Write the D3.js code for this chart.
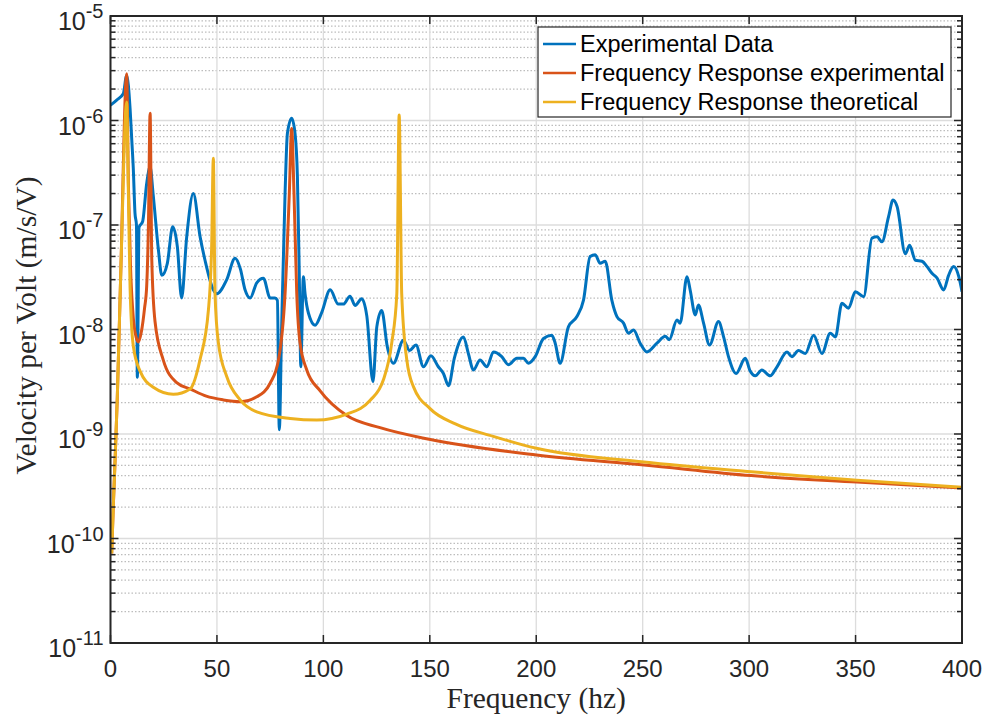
<!DOCTYPE html>
<html>
<head>
<meta charset="utf-8">
<script src="https://cdn.jsdelivr.net/npm/d3@7"></script>
<style>
  body { margin: 0; background: #fff; }
  svg { display: block; }
  .tick-label { font-family: "Liberation Sans", Arial, Helvetica, sans-serif; fill: #262626; }
  .axis-title { font-family: "Liberation Serif", "Times New Roman", serif; fill: #262626; }
  .legend-text { font-family: "Liberation Sans", Arial, Helvetica, sans-serif; fill: #000; }
</style>
</head>
<body>
<div class="canvas"></div>
<script>
// canvas size and plot box
const width = 989;
const height = 723;
const marginTop = 16;
const marginRight = 27;
const marginBottom = 80;
const marginLeft = 110.5;

// --- data ---
const seriesNames = ["Experimental Data", "Frequency Response experimental", "Frequency Response theoretical"];
const xTicks = [0, 50, 100, 150, 200, 250, 300, 350, 400];
const yTickExponents = [-11, -10, -9, -8, -7, -6, -5];

// Experimental Data (blue)
const expFreq = [0, 2.9, 6.0, 7.6, 9.2, 10.0, 10.7, 11.5, 12.2, 12.6, 13.4, 15.1, 17.0, 18.6, 20.0,
  22.5, 24.1, 26.7, 29.2, 31.4, 33.4, 35.8, 38.9, 42.1, 44.4, 48.3, 49.9, 54.6, 58.5, 61.0,
  63.2, 65.6, 68.7, 71.8, 75.0, 77.3, 78.4, 79.3, 80.4, 82.0, 83.1, 85.1, 86.7, 87.8, 88.7,
  89.4, 90.6, 91.4, 93.0, 96.1, 99.2, 103.2, 107.0, 109.4, 112.5, 114.9, 118.0, 120.4, 123.3,
  125.1, 127.4, 130.0, 132.9, 137.6, 140.5, 143.5, 147.0, 150.5, 154.0, 156.4, 158.8, 161.5,
  165.8, 168.1, 170.5, 173.6, 176.8, 179.9, 183.8, 186.9, 190.9, 194.0, 196.3, 199.5, 203.4,
  207.3, 208.9, 211.2, 215.1, 219.1, 222.2, 225.3, 227.7, 230.0, 232.4, 235.5, 237.9, 241.0,
  243.3, 245.7, 248.8, 252.0, 256.7, 260.6, 262.5, 266.1, 267.6, 270.8, 272.3, 274.7, 276.2,
  278.6, 281.4, 285.6, 288.0, 290.3, 293.9, 298.2, 300.5, 302.9, 306.0, 309.9, 313.1, 317.8,
  320.1, 323.2, 326.4, 330.3, 334.2, 338.1, 340.5, 343.6, 346.7, 349.9, 353.8, 357.7, 360.1,
  362.4, 365.5, 367.6, 369.5, 373.4, 375.4, 378.1, 381.2, 383.6, 385.9, 388.3, 391.4, 393.7,
  396.1, 398.5, 400];
const expVel = [1.4e-6, 1.57e-6, 1.8e-6, 2.7e-6, 1.3e-6, 6.5e-7, 3.5e-7, 1.3e-7, 1.0e-7, 3.5e-9, 9.5e-8, 1.08e-7, 2.5e-7, 3.6e-7, 2.0e-7,
  5.8e-8, 3.3e-8, 4.3e-8, 9.6e-8, 6.2e-8, 2.0e-8, 7.7e-8, 2.0e-7, 7.7e-8, 4.6e-8, 2.4e-8, 2.2e-8, 3.0e-8, 4.8e-8, 3.8e-8,
  2.4e-8, 2.0e-8, 2.8e-8, 3.1e-8, 2.0e-8, 2.0e-8, 1.9e-8, 1.1e-9, 1.06e-8, 2.0e-7, 7.5e-7, 1.05e-6, 7.5e-7, 2.9e-7, 3.2e-8,
  4.4e-9, 3.2e-8, 2.2e-8, 1.43e-8, 1.1e-8, 1.45e-8, 2.4e-8, 1.75e-8, 1.75e-8, 2.08e-8, 1.7e-8, 1.97e-8, 1.35e-8, 3.16e-9,
  1.06e-8, 1.52e-8, 6.9e-9, 4.75e-9, 7.9e-9, 6.3e-9, 7.1e-9, 4.4e-9, 5.6e-9, 4.4e-9, 3.8e-9, 2.9e-9, 5.3e-9,
  8.5e-9, 5.9e-9, 4.1e-9, 5.1e-9, 4.4e-9, 6.1e-9, 5.5e-9, 4.6e-9, 5.3e-9, 5.3e-9, 4.75e-9, 5.5e-9, 8.2e-9,
  8.8e-9, 7.4e-9, 4.75e-9, 1.06e-8, 1.33e-8, 1.91e-8, 5.0e-8, 5.2e-8, 4.3e-8, 4.5e-8, 1.91e-8, 1.33e-8, 1.15e-8,
  9.2e-9, 9.9e-9, 7.4e-9, 6.1e-9, 7.4e-9, 8.6e-9, 8.0e-9, 1.23e-8, 1.15e-8, 3.2e-8, 2.39e-8, 1.38e-8, 1.72e-8,
  1.15e-8, 7.1e-9, 1.19e-8, 8.5e-9, 5.5e-9, 3.8e-9, 5.3e-9, 4.0e-9, 3.6e-9, 4.1e-9, 3.6e-9, 4.4e-9, 6.1e-9,
  5.5e-9, 6.3e-9, 5.9e-9, 8.8e-9, 5.9e-9, 9.2e-9, 8.5e-9, 1.78e-8, 1.6e-8, 2.3e-8, 2.06e-8, 7.5e-8, 7.7e-8,
  6.9e-8, 1.2e-7, 1.73e-7, 1.5e-7, 5.3e-8, 6.4e-8, 4.6e-8, 4.5e-8, 4.0e-8, 3.45e-8, 3.1e-8, 2.39e-8, 3.3e-8,
  4.0e-8, 3.2e-8, 2.3e-8];

// Frequency Response experimental (red)
const respExpFreq = [0.56, 1.3, 2.1, 3.2, 4.9, 7.6, 8.4, 9.4, 10.7, 12.0, 13.1, 14.5, 16.0, 17.0, 17.8, 18.6,
  19.4, 20.9, 24.8, 31.1, 37.4, 45.0, 53.0, 60.9, 68.7, 75.0, 78.9, 82.0, 84.0, 85.1, 86.2, 87.5,
  89.0, 92.2, 98.4, 111.0, 126.6, 149.7, 200.1, 250.6, 301.0, 350.6, 400];
const respExpVel = [7.2e-11, 2.0e-10, 5.3e-10, 2.26e-9, 4.0e-8, 2.8e-6, 2.5e-7, 4.0e-8, 1.3e-8, 8.5e-9, 7.6e-9, 9.5e-9, 1.6e-8, 2.6e-8, 9.6e-8, 1.17e-6,
  4.6e-8, 1.2e-8, 5.1e-9, 3.1e-9, 2.7e-9, 2.3e-9, 2.12e-9, 2.04e-9, 2.27e-9, 3.06e-9, 5.1e-9, 2.2e-8, 2.0e-7, 8.4e-7, 2.0e-7, 2.2e-8,
  7.5e-9, 4.1e-9, 2.6e-9, 1.5e-9, 1.15e-9, 8.9e-10, 6.3e-10, 5.06e-10, 4.0e-10, 3.47e-10, 3.05e-10];

// Frequency Response theoretical (yellow)
const respTheoFreq = [0.56, 1.3, 2.1, 3.2, 4.9, 7.6, 8.4, 9.2, 10.7, 13.9, 20.1, 29.5, 37.4, 42.0, 46.0, 47.5,
  48.3, 49.1, 50.7, 54.6, 60.9, 68.7, 84.4, 96.9, 111.0, 122.0, 128.2, 132.1, 134.5, 135.6, 136.8,
  139.2, 142.3, 150.1, 162.0, 179.8, 200.1, 250.6, 301.0, 350.6, 400];
const respTheoVel = [7.2e-11, 2.0e-10, 5.3e-10, 2.26e-9, 4.0e-8, 1.5e-6, 2.0e-7, 2.5e-8, 7.0e-9, 4.0e-9, 2.8e-9, 2.4e-9, 2.7e-9, 5.1e-9, 1.54e-8, 6.0e-8,
  4.35e-7, 2.2e-8, 7.4e-9, 3.55e-9, 2.12e-9, 1.63e-9, 1.41e-9, 1.36e-9, 1.55e-9, 2.1e-9, 3.3e-9, 7.4e-9, 2.2e-8, 1.13e-6, 2.2e-8,
  5.1e-9, 2.84e-9, 1.75e-9, 1.25e-9, 9.5e-10, 7.3e-10, 5.4e-10, 4.35e-10, 3.6e-10, 3.1e-10];

const colors = ["#0072BD", "#D95319", "#EDB120"];

// scales
const x = d3.scaleLinear()
  .domain([0, 400])
  .range([marginLeft, width - marginRight]);

const y = d3.scaleLog()
  .domain([1e-11, 1e-5])
  .range([height - marginBottom, marginTop]);

const svg = d3.select(".canvas").append("svg")
  .attr("width", width)
  .attr("height", height);

const x0 = x(0), x1 = x(400), y0 = y(1e-11), y1 = y(1e-5);

// minor log values (2..9 in each decade)
const minorVals = [];
for (let e = -11; e < -5; e++) {
  for (let k = 2; k <= 9; k++) minorVals.push(k * Math.pow(10, e));
}
const majorVals = yTickExponents.map(e => Math.pow(10, e));

// grid
const grid = svg.append("g");
grid.selectAll(".minor")
  .data(minorVals)
  .join("line")
  .attr("x1", x0).attr("x2", x1)
  .attr("y1", d => y(d)).attr("y2", d => y(d))
  .attr("stroke", "#bdbdbd")
  .attr("stroke-width", 1.2)
  .attr("stroke-dasharray", "1.5,2");

grid.selectAll(".majorY")
  .data(majorVals)
  .join("line")
  .attr("x1", x0).attr("x2", x1)
  .attr("y1", d => y(d)).attr("y2", d => y(d))
  .attr("stroke", "#dcdcdc")
  .attr("stroke-width", 1.3);

grid.selectAll(".majorX")
  .data(xTicks)
  .join("line")
  .attr("x1", d => x(d)).attr("x2", d => x(d))
  .attr("y1", y0).attr("y2", y1)
  .attr("stroke", "#dcdcdc")
  .attr("stroke-width", 1.3);

// curves
svg.append("clipPath").attr("id", "plotclip")
  .append("rect")
  .attr("x", x0).attr("y", y1)
  .attr("width", x1 - x0).attr("height", y0 - y1);

const line = d3.line()
  .x(d => x(d[0]))
  .y(d => y(d[1]))
  .curve(d3.curveMonotoneX);

const series = [
  d3.zip(expFreq, expVel),
  d3.zip(respExpFreq, respExpVel),
  d3.zip(respTheoFreq, respTheoVel)
];

svg.append("g")
  .attr("clip-path", "url(#plotclip)")
  .selectAll("path")
  .data(series)
  .join("path")
  .attr("d", d => line(d))
  .attr("fill", "none")
  .attr("stroke", (d, i) => colors[i])
  .attr("stroke-width", 3)
  .attr("stroke-linejoin", "round");

// axes box and ticks
const axisColor = "#262626";
const ax = svg.append("g");

ax.append("rect")
  .attr("x", x0).attr("y", y1)
  .attr("width", x1 - x0).attr("height", y0 - y1)
  .attr("fill", "none")
  .attr("stroke", axisColor)
  .attr("stroke-width", 2);

// x ticks bottom and top
ax.selectAll(".xt")
  .data(xTicks)
  .join("line")
  .attr("x1", d => x(d)).attr("x2", d => x(d))
  .attr("y1", y0).attr("y2", y0 - 8)
  .attr("stroke", axisColor).attr("stroke-width", 1.5);
ax.selectAll(".xtt")
  .data(xTicks)
  .join("line")
  .attr("x1", d => x(d)).attr("x2", d => x(d))
  .attr("y1", y1).attr("y2", y1 + 8)
  .attr("stroke", axisColor).attr("stroke-width", 1.5);

// y ticks left and right
[[x0, 1], [x1, -1]].forEach(([xx, dir]) => {
  ax.append("g").selectAll("line")
    .data(majorVals)
    .join("line")
    .attr("x1", xx).attr("x2", xx + dir * 8)
    .attr("y1", d => y(d)).attr("y2", d => y(d))
    .attr("stroke", axisColor).attr("stroke-width", 1.5);
  ax.append("g").selectAll("line")
    .data(minorVals)
    .join("line")
    .attr("x1", xx).attr("x2", xx + dir * 5)
    .attr("y1", d => y(d)).attr("y2", d => y(d))
    .attr("stroke", axisColor).attr("stroke-width", 1.5);
});

// x tick labels
svg.append("g").selectAll("text")
  .data(xTicks)
  .join("text")
  .attr("class", "tick-label")
  .attr("x", d => x(d))
  .attr("y", y0 + 34)
  .attr("text-anchor", "middle")
  .attr("font-size", 24)
  .text(d => d);

// y tick labels: 10^e
const yl = svg.append("g").selectAll("text")
  .data(yTickExponents)
  .join("text")
  .attr("class", "tick-label")
  .attr("x", x0 - 7)
  .attr("y", d => y(Math.pow(10, d)) + 14)
  .attr("text-anchor", "end")
  .attr("font-size", 25);
yl.append("tspan").text("10");
yl.append("tspan")
  .attr("font-size", 20)
  .attr("dy", -12)
  .text(d => "-" + Math.abs(d));

// axis titles
svg.append("text")
  .attr("class", "axis-title")
  .attr("x", (x0 + x1) / 2)
  .attr("y", 708)
  .attr("text-anchor", "middle")
  .attr("font-size", 29.5)
  .text("Frequency (hz)");

svg.append("text")
  .attr("class", "axis-title")
  .attr("transform", `translate(36, ${(y0 + y1) / 2 - 4}) rotate(-90)`)
  .attr("text-anchor", "middle")
  .attr("font-size", 29.5)
  .text("Velocity per Volt (m/s/V)");

// legend
const legendX = 538, legendY = 27, legendW = 413, legendH = 90;
const legend = svg.append("g");
legend.append("rect")
  .attr("x", legendX).attr("y", legendY)
  .attr("width", legendW).attr("height", legendH)
  .attr("fill", "#fff")
  .attr("stroke", axisColor)
  .attr("stroke-width", 1.2);

const entries = legend.selectAll(".entry")
  .data(seriesNames)
  .join("g")
  .attr("transform", (d, i) => `translate(${legendX}, ${legendY + 17 + i * 29})`);

entries.append("line")
  .attr("x1", 5).attr("x2", 38)
  .attr("y1", 0).attr("y2", 0)
  .attr("stroke", (d, i) => colors[i])
  .attr("stroke-width", 2.5);

entries.append("text")
  .attr("class", "legend-text")
  .attr("x", 42)
  .attr("y", 8)
  .attr("font-size", 23.5)
  .text(d => d);
</script>
</body>
</html>
